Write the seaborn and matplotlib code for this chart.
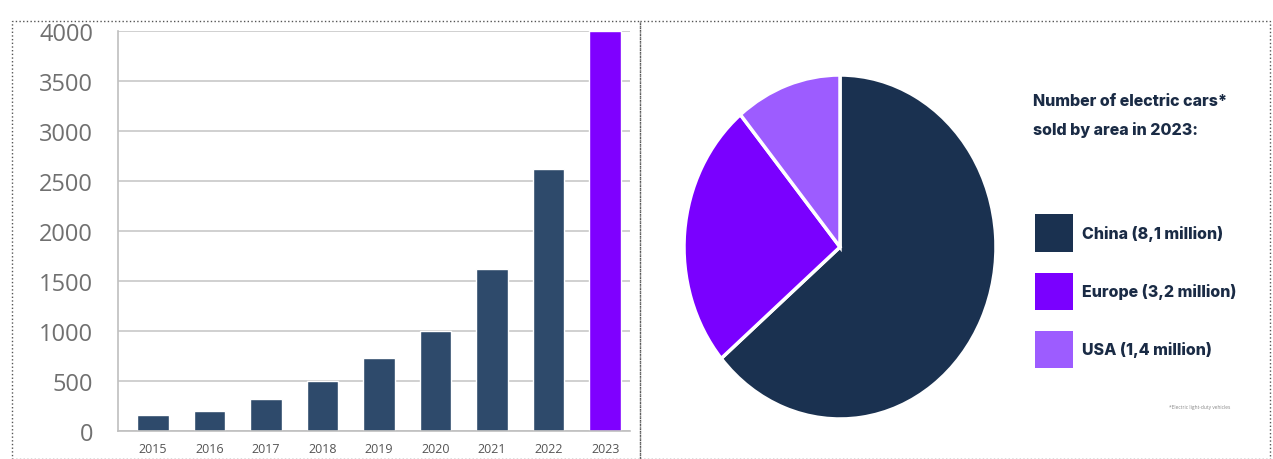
import matplotlib
matplotlib.use("Agg")
import matplotlib.pyplot as plt
import seaborn as sns
import pandas as pd
from matplotlib.patches import Rectangle

# Data
years = ["2015", "2016", "2017", "2018", "2019", "2020", "2021", "2022", "2023"]
sales = [160, 200, 320, 500, 730, 1000, 1620, 2620, 4000]
bar_colors = ["#2E4A6B"] * 8 + ["#7F00FF"]

areas = ["China (8,1 million)", "Europe (3,2 million)", "USA (1,4 million)"]
area_sales = [8.1, 3.2, 1.4]
pie_colors = ["#1A3150", "#7A00FF", "#9D5CFF"]

sns.set_theme(style="white")
plt.rcParams['font.family'] = ['Open Sans', 'DejaVu Sans']

fig = plt.figure(figsize=(12.73, 4.6), dpi=100)
W, H = 1273, 460

# Bar chart
ax = fig.add_axes([118 / W, 28 / H, 512 / W, 400 / H])
df = pd.DataFrame({'Year': years, 'Sales': sales})
sns.barplot(data=df, x='Year', y='Sales', hue='Year', palette=bar_colors,
            legend=False, width=0.56, saturation=1, ax=ax)
ax.set_ylim(0, 4000)
ax.set_xlim(-0.62, 8.44)
ax.set_yticks(range(0, 4001, 500))
ax.yaxis.grid(True, color="#C8C8C8", lw=1.2)
ax.set_axisbelow(True)
for s in ['top', 'right']:
    ax.spines[s].set_visible(False)
for s in ['left', 'bottom']:
    ax.spines[s].set_color("#BFBFBF")
    ax.spines[s].set_linewidth(1.2)
ax.tick_params(axis='y', length=0, pad=18, labelsize=17, labelcolor="#707070")
ax.tick_params(axis='x', length=0, pad=8, labelsize=9, labelcolor="#555555")
ax.set_xlabel("")
ax.set_ylabel("")

# Pie chart
ax2 = fig.add_axes([(840 - 156) / W, (460 - 248 - 172) / H, 312 / W, 344 / H])
wedges, _ = ax2.pie(area_sales, colors=pie_colors, startangle=90, counterclock=False,
                    radius=1, wedgeprops=dict(edgecolor='white', linewidth=2.5))
ax2.set_aspect('auto')
ax2.set_xlim(-1, 1)
ax2.set_ylim(-1, 1)
ax2.axis('off')

navy = "#1A2B45"
fig.text(1033 / W, (460 - 94) / H, "Number of electric cars*\nsold by area in 2023:",
         fontsize=11.5, fontweight='heavy', color=navy, va='top', ha='left',
         linespacing=2.0, family=['Inter', 'DejaVu Sans'])

leg = fig.legend(wedges, areas, loc='upper left',
                 bbox_to_anchor=(1021 / W, (460 - 201) / H), frameon=False,
                 handlelength=2.33, handleheight=3.2, labelspacing=1.33,
                 handletextpad=0.6,
                 prop=dict(size=11.5, weight='heavy', family=['Inter', 'DejaVu Sans']))
for t in leg.get_texts():
    t.set_color(navy)
for h in leg.legend_handles:
    h.set_edgecolor('none')

fig.text(1200 / W, (460 - 408) / H, "*Electric light-duty vehicles", fontsize=3.5,
         color="#888888", ha='center', va='center')

# Dotted panel borders
fig.add_artist(Rectangle((12 / W, 0), 628 / W, 438 / H, transform=fig.transFigure,
                         fill=False, ls=':', lw=1, color="#555555"))
fig.add_artist(Rectangle((640 / W, 0), 630 / W, 438 / H, transform=fig.transFigure,
                         fill=False, ls=':', lw=1, color="#555555"))

fig.savefig("out.png", dpi=100)
